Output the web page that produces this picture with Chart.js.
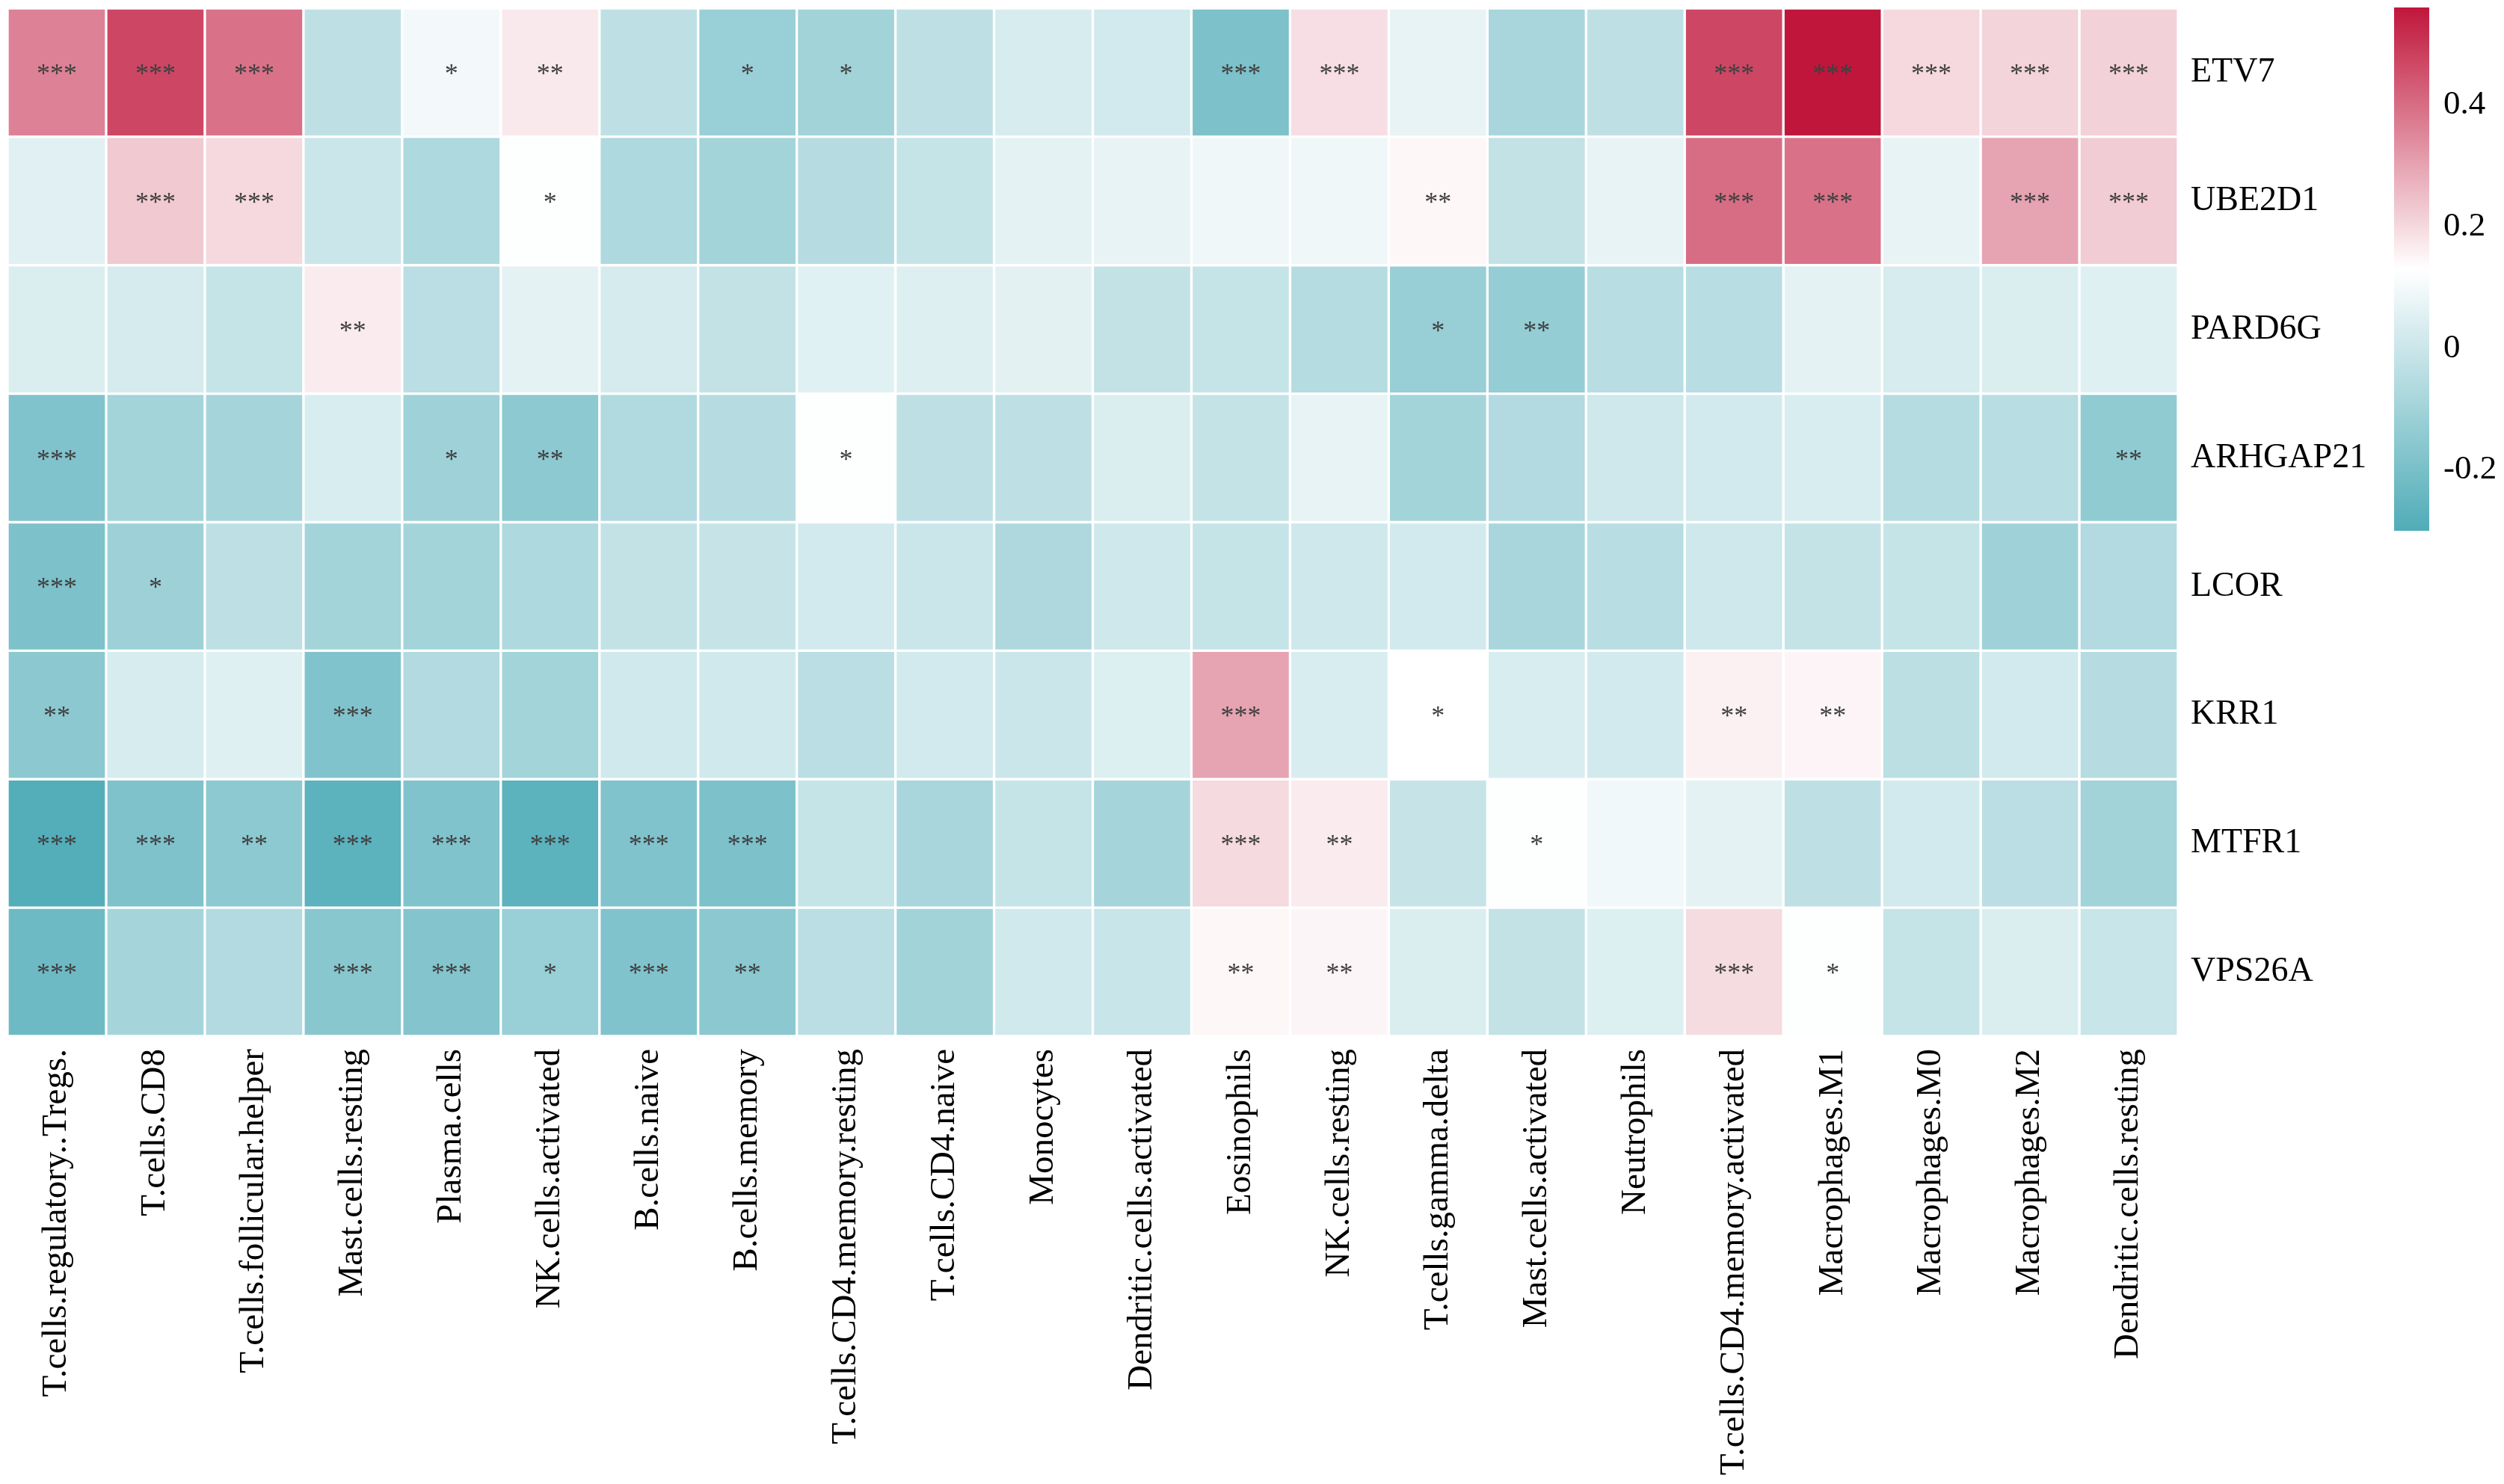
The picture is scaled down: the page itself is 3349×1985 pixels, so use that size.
<!DOCTYPE html>
<html>
<head>
<meta charset="utf-8">
<script src="https://cdn.jsdelivr.net/npm/chart.js@4"></script>
<style>
  html, body { margin: 0; padding: 0; background: #fff; overflow: hidden; }
  #heat { position: absolute; left: 0; top: 0; }
  #bar { position: absolute; left: 3190px; top: 0; }
</style>
</head>
<body>
<canvas id="heat" width="3190" height="1985"></canvas>
<canvas id="bar" width="159" height="1985"></canvas>
<script>
const cellTypes = ["T.cells.regulatory..Tregs.", "T.cells.CD8", "T.cells.follicular.helper", "Mast.cells.resting",
  "Plasma.cells", "NK.cells.activated", "B.cells.naive", "B.cells.memory", "T.cells.CD4.memory.resting",
  "T.cells.CD4.naive", "Monocytes", "Dendritic.cells.activated", "Eosinophils", "NK.cells.resting",
  "T.cells.gamma.delta", "Mast.cells.activated", "Neutrophils", "T.cells.CD4.memory.activated",
  "Macrophages.M1", "Macrophages.M0", "Macrophages.M2", "Dendritic.cells.resting"];
const genes = ["ETV7", "UBE2D1", "PARD6G", "ARHGAP21", "LCOR", "KRR1", "MTFR1", "VPS26A"];

// correlation values, one array per gene (same order as cellTypes)
const etv7     = [0.36, 0.47, 0.39, -0.03, 0.10, 0.17, -0.03, -0.12, -0.10, -0.03, 0.03, 0.02, -0.19, 0.19, 0.07, -0.085, -0.03, 0.47, 0.56, 0.20, 0.21, 0.215];
const ube2d1   = [0.057, 0.23, 0.20, 0.0, -0.068, 0.125, -0.068, -0.095, -0.05, -0.012, 0.065, 0.07, 0.09, 0.09, 0.145, -0.02, 0.07, 0.40, 0.39, 0.07, 0.30, 0.225];
const pard6g   = [0.04, 0.027, -0.012, 0.167, -0.04, 0.065, 0.027, -0.02, 0.055, 0.048, 0.06, -0.02, -0.012, -0.053, -0.124, -0.13, -0.045, -0.045, 0.065, 0.03, 0.04, 0.05];
const arhgap21 = [-0.18, -0.095, -0.09, 0.035, -0.107, -0.149, -0.063, -0.05, 0.125, -0.03, -0.03, 0.04, -0.015, 0.07, -0.095, -0.06, 0.01, 0.02, 0.035, -0.053, -0.045, -0.14];
const lcor     = [-0.19, -0.11, -0.03, -0.095, -0.095, -0.068, -0.02, -0.01, 0.02, 0.0, -0.07, 0.01, -0.012, 0.01, 0.02, -0.085, -0.045, 0.01, -0.015, -0.012, -0.105, -0.06];
const krr1     = [-0.153, 0.03, 0.05, -0.18, -0.06, -0.095, 0.015, 0.015, -0.04, 0.02, 0.0, 0.045, 0.30, 0.035, 0.13, 0.035, 0.02, 0.156, 0.15, -0.035, 0.02, -0.05];
const mtfr1    = [-0.29, -0.185, -0.15, -0.27, -0.18, -0.27, -0.18, -0.19, -0.012, -0.085, -0.012, -0.09, 0.199, 0.167, -0.01, 0.125, 0.095, 0.065, -0.03, 0.02, -0.04, -0.10];
const vps26a   = [-0.227, -0.09, -0.06, -0.16, -0.175, -0.12, -0.18, -0.155, -0.04, -0.10, 0.015, -0.005, 0.145, 0.148, 0.04, -0.02, 0.045, 0.195, 0.125, -0.012, 0.04, -0.005];

// significance marks
const etv7Sig     = ["***","***","***","","*","**","","*","*","","","","***","***","","","","***","***","***","***","***"];
const ube2d1Sig   = ["","***","***","","","*","","","","","","","","","**","","","***","***","","***","***"];
const pard6gSig   = ["","","","**","","","","","","","","","","","*","**","","","","","",""];
const arhgap21Sig = ["***","","","","*","**","","","*","","","","","","","","","","","","","**"];
const lcorSig     = ["***","*","","","","","","","","","","","","","","","","","","","",""];
const krr1Sig     = ["**","","","***","","","","","","","","","***","","*","","","**","**","","",""];
const mtfr1Sig    = ["***","***","**","***","***","***","***","***","","","","","***","**","","*","","","","","",""];
const vps26aSig   = ["***","","","***","***","*","***","**","","","","","**","**","","","","***","*","","",""];

const colorTicks = [-0.2, 0, 0.2, 0.4];
const scaleMin = -0.3;
const scaleMax = 0.56;

const rows = [etv7, ube2d1, pard6g, arhgap21, lcor, krr1, mtfr1, vps26a];
const sigs = [etv7Sig, ube2d1Sig, pard6gSig, arhgap21Sig, lcorSig, krr1Sig, mtfr1Sig, vps26aSig];

const lowCol = [80, 172, 184];
const midCol = [255, 255, 255];
const highCol = [192, 22, 59];

const mix = (a, b, t) => {
    const c = a.map((v, i) => Math.round(v + (b[i] - v) * t));
    return "rgb(" + c.join(",") + ")";
};
const valueColor = (v) => {
    let t = (v - scaleMin) / (scaleMax - scaleMin);
    t = Math.max(0, Math.min(1, t));
    if (t < 0.5) return mix(lowCol, midCol, t * 2);
    return mix(midCol, highCol, t * 2 - 1);
};

// no extra room above/below for tick labels
const noPad = (axis) => { axis.paddingTop = 0; axis.paddingBottom = 0; };

const starPlugin = {
    id: "stars",
    afterDatasetsDraw(chart) {
        const ctx = chart.ctx;
        ctx.save();
        ctx.font = "36px 'Liberation Serif'";
        ctx.fillStyle = "#3f3f3f";
        ctx.textAlign = "center";
        ctx.textBaseline = "alphabetic";
        chart.data.datasets.forEach((ds, i) => {
            const meta = chart.getDatasetMeta(i);
            meta.data.forEach((el, j) => {
                const s = sigs[i][j];
                if (!s) return;
                const cy = (el.y + el.base) / 2;
                ctx.fillText(s, el.x, cy + 13);
            });
        });
        ctx.restore();
    }
};

// gene names beside each row, placed with the y scale
const rowLabelPlugin = {
    id: "rowLabels",
    afterDraw(chart) {
        const ctx = chart.ctx;
        const y = chart.scales.y;
        ctx.save();
        ctx.font = "46px 'Liberation Serif'";
        ctx.fillStyle = "#000";
        ctx.textAlign = "left";
        ctx.textBaseline = "middle";
        genes.forEach((g, i) => {
            ctx.fillText(g, chart.chartArea.right + 17, y.getPixelForValue(i + 0.5));
        });
        ctx.restore();
    }
};

const heatCtx = document.getElementById("heat");
new Chart(heatCtx, {
    type: "bar",
    data: {
        labels: cellTypes,
        datasets: rows.map((r, i) => ({
            label: genes[i],
            data: r.map(() => 1),
            backgroundColor: r.map(valueColor),
            borderColor: "#ffffff",
            borderWidth: 2,
            borderSkipped: false,
            barPercentage: 1,
            categoryPercentage: 1
        }))
    },
    options: {
        responsive: false,
        animation: false,
        devicePixelRatio: 1,
        layout: { padding: { left: 10, top: 11, right: 0, bottom: 0 } },
        plugins: { legend: { display: false }, tooltip: { enabled: false } },
        scales: {
            x: {
                stacked: true,
                grid: { display: false, drawTicks: false },
                border: { display: false },
                ticks: {
                    autoSkip: false,
                    minRotation: 90,
                    maxRotation: 90,
                    padding: 17,
                    color: "#000",
                    font: { family: "Liberation Serif", size: 47 }
                },
                afterFit: (axis) => { axis.height = 599; axis.paddingLeft = 0; axis.paddingRight = 0; }
            },
            y: {
                stacked: true,
                position: "right",
                reverse: true,
                min: 0,
                max: genes.length,
                grid: { display: false, drawTicks: false },
                border: { display: false },
                ticks: { display: false },
                afterFit: (axis) => { axis.width = 277; noPad(axis); }
            }
        }
    },
    plugins: [starPlugin, rowLabelPlugin]
});

const barCtx = document.getElementById("bar");
new Chart(barCtx, {
    type: "bar",
    data: {
        labels: ["scale"],
        datasets: [{
            data: [[scaleMin, scaleMax]],
            barPercentage: 1,
            categoryPercentage: 1,
            borderWidth: 0,
            backgroundColor: (c) => {
                const chart = c.chart;
                const area = chart.chartArea;
                if (!area) return valueColor(0);
                const y = chart.scales.y;
                const g = chart.ctx.createLinearGradient(0, y.getPixelForValue(scaleMin), 0, y.getPixelForValue(scaleMax));
                for (let k = 0; k <= 20; k++) {
                    g.addColorStop(k / 20, valueColor(scaleMin + (scaleMax - scaleMin) * k / 20));
                }
                return g;
            }
        }]
    },
    options: {
        responsive: false,
        animation: false,
        devicePixelRatio: 1,
        layout: { padding: { left: 12, top: 10, right: 0, bottom: 1275 } },
        plugins: { legend: { display: false }, tooltip: { enabled: false } },
        scales: {
            x: { display: false },
            y: {
                position: "right",
                min: scaleMin,
                max: scaleMax,
                grid: { display: false, drawTicks: false },
                border: { display: false },
                afterBuildTicks: (axis) => { axis.ticks = colorTicks.map((v) => ({ value: v })); },
                ticks: {
                    padding: 19,
                    color: "#000",
                    font: { family: "Liberation Serif", size: 45 },
                    callback: (v) => (v === 0 ? "0" : v.toFixed(1))
                },
                afterFit: (axis) => { axis.width = 100; noPad(axis); }
            }
        }
    }
});
</script>
</body>
</html>
